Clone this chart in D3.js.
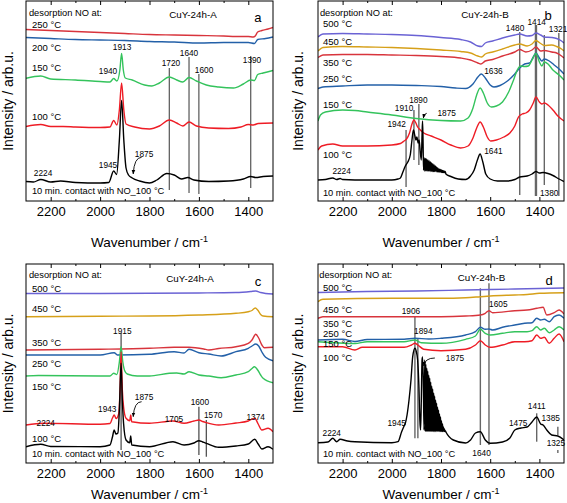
<!DOCTYPE html>
<html><head><meta charset="utf-8">
<script src="https://cdn.jsdelivr.net/npm/d3@7"></script>
<style>body{margin:0;background:#fff}svg{display:block}text{font-family:"Liberation Sans",Arial,sans-serif}</style>
</head><body><svg id="c" width="567" height="503"></svg>
<script>
const X_DOMAIN = [2300, 1300];
const majorTicks = [2200, 2000, 1800, 1600, 1400];
const minorTicks = [2100, 1900, 1700, 1500];

// ---------- Panel a : CuY-24h-A ----------
const a250 = [[2300,171.5],[2200,170.5],[2100,169.5],[2000,168.5],[1900,167.5],[1800,166.5],[1700,166],[1600,165.5],[1500,165],[1450,164.5],[1400,164.5],[1380,164],[1372,165],[1362,169],[1345,170.5],[1320,172],[1300,173.5]];
const a200 = [[2300,163.5],[2200,162.5],[2100,161.5],[2000,161],[1900,160.5],[1800,159.5],[1700,159],[1600,158],[1500,158.5],[1400,158.5],[1375,157.5],[1362,161.5],[1330,162.5],[1300,164]];
const a150 = [[2300,122.7],[2240,125],[2200,122],[2100,121],[2000,119.5],[1960,119],[1945,122.5],[1932,120],[1920,131],[1913,147.5],[1906,131],[1898,123],[1870,121],[1820,116],[1790,115],[1760,118],[1720,124],[1690,121],[1665,119],[1640,123.5],[1610,120],[1570,116],[1520,114],[1460,113],[1420,117],[1390,121],[1375,120.5],[1362,126.5],[1340,128],[1300,130.5]];
const a100 = [[2300,74.5],[2240,76.5],[2200,74.5],[2150,74.5],[2100,74],[2000,73.5],[1960,74],[1945,80.5],[1932,76],[1922,91],[1913,118],[1904,91],[1895,77],[1860,74],[1800,72],[1760,75],[1720,81],[1690,78],[1665,75],[1640,79],[1610,75],[1560,73],[1480,72.5],[1430,74],[1400,76.5],[1380,76],[1360,77.5],[1300,78]];
const a10 = [[2300,19.5],[2270,19],[2240,21.5],[2200,19],[2160,20],[2100,18.5],[2000,18],[1965,18.5],[1945,30],[1933,26.5],[1922,61],[1913,100.5],[1904,61],[1895,33],[1885,26],[1870,23],[1840,20],[1800,18],[1770,21],[1730,27.5],[1700,26],[1670,22],[1645,23.5],[1620,21],[1560,19.5],[1480,20],[1420,22],[1390,24.5],[1370,23.5],[1340,24.5],[1300,25]];
const aLines = [[1720,133,11],[1640,144,8],[1600,127,7],[1390,145,13]];
const aTemps = [["250 °C",176],["200 °C",153],["150 °C",133],["100 °C",84]];
const aPeaks = [["1913",1911,154],["1940",1968,130],["1720",1713,138],["1640",1640,148],["1600",1579,131],["1390",1385,141],["1945",1968,36],["1875",1822,47],["2224",2231,28]];
const aArrow = [[1832,43.7],[1866,27]];

// ---------- Panel b : CuY-24h-B ----------
const b500 = [[2300,164],[2280,167],[2200,167.5],[2100,167],[2000,166.5],[1900,165.5],[1800,163.5],[1720,161.5],[1680,159],[1650,155],[1635,154.5],[1620,158],[1590,160],[1550,163],[1500,166],[1480,167],[1450,165],[1430,165.5],[1414,168],[1395,166],[1380,164],[1350,163.5],[1330,162.5],[1310,160],[1300,158]];
const b450 = [[2300,150],[2280,153.5],[2200,154.5],[2100,154],[2000,153.5],[1900,152.5],[1800,151],[1720,149.5],[1680,148],[1650,145],[1635,144],[1620,147],[1590,149],[1550,152],[1500,156],[1480,157],[1450,155],[1430,157],[1414,160.5],[1395,157.5],[1380,155.5],[1350,156],[1330,154.5],[1310,152],[1300,150]];
const b350 = [[2300,143.5],[2280,146],[2200,146.5],[2100,146.5],[2000,146],[1900,145.5],[1800,144.5],[1720,143],[1680,141],[1650,138],[1638,137],[1620,140],[1590,141.5],[1550,145],[1500,149],[1480,151.5],[1455,149],[1430,151],[1414,154],[1395,150],[1380,150.5],[1350,149],[1330,148],[1310,145],[1300,143]];
const b250 = [[2300,112.5],[2280,114],[2200,115],[2100,116],[2000,116],[1900,115.5],[1800,114.5],[1740,113],[1700,112.5],[1670,117],[1650,124],[1636,127],[1620,123],[1600,116],[1585,114],[1560,115.5],[1530,120],[1500,127],[1480,133],[1460,137],[1440,138],[1425,144],[1414,148],[1400,143],[1390,140],[1380,142],[1360,140],[1340,136],[1320,132],[1300,127]];
const b150 = [[2300,80],[2290,86],[2270,89],[2200,91],[2150,90.5],[2100,89],[2000,86],[1900,82.5],[1800,80.5],[1720,80],[1690,83],[1670,93],[1655,106],[1641,113],[1628,108],[1612,98],[1595,94],[1575,95],[1550,99],[1525,109],[1505,121],[1490,131],[1475,135],[1460,134.5],[1445,135],[1430,141],[1414,147.5],[1400,139],[1390,135],[1380,139],[1365,137],[1345,131],[1320,126],[1300,121]];
const b100 = [[2300,51],[2285,55],[2240,57],[2200,55],[2100,55],[2000,56],[1965,57.5],[1950,60],[1940,62],[1928,68],[1918,77],[1910,81],[1902,78],[1895,74],[1888,72],[1880,70],[1870,68],[1840,65],[1800,61],[1760,56],[1720,53],[1690,55],[1670,63],[1655,73],[1641,79],[1628,74],[1612,64],[1598,60],[1575,61],[1545,64],[1520,68],[1500,75],[1485,84],[1470,87],[1455,88],[1440,91],[1425,98],[1414,104],[1400,99],[1390,97],[1380,98],[1365,96],[1345,91],[1325,85],[1300,80]];
const b10 = [[2300,21],[2270,21.5],[2240,23],[2224,21.5],[2210,22.5],[2200,21.5],[2100,21],[2000,21],[1975,22],[1965,23],[1955,29],[1945,35],[1935,39],[1925,46],[1918,61],[1912,71],[1906,65],[1902,61],[1898,64],[1893,58],[1889,61],[1885,51],[1880,41],[1877,66],[1875,80],[1873,61],[1871,31],
 [1868,43],[1866,30],[1863,42.5],[1861,30],[1858,42],[1856,30],[1853,41],[1851,30],[1848,40],[1846,30],[1843,39],[1841,29.5],[1838,38],[1836,29.5],[1833,37],[1831,29.5],[1828,36],[1826,29.5],[1823,35],[1821,29.5],[1818,34],[1816,29],[1813,33],[1811,29],[1808,32],[1806,29],[1803,31.5],[1801,29],[1798,31],[1796,28.5],[1793,30.5],[1791,28.5],[1788,30],[1786,28.5],[1783,29.5],
 [1780,27],[1760,24.5],[1730,22],[1700,21.5],[1680,25],[1665,31],[1652,41],[1641,47],[1630,39],[1618,27],[1600,22],[1570,20],[1530,20],[1500,21.5],[1480,24],[1450,25],[1430,27],[1414,29.5],[1400,28],[1385,28.5],[1365,27.5],[1345,25.5],[1320,22],[1300,19.5]];
const bLines = [[1942,71,14],[1910,91,41],[1890,97,36],[1480,169,6],[1414,176,5],[1380,166,16],[1321,168,5]];
const bTemps = [["500 °C",177],["450 °C",159.3],["350 °C",138.3],["250 °C",122.7],["150 °C",96],["100 °C",46]];
const bPeaks = [["1942",1980,77],["1910",1950,92.7],["1890",1892,101],["1875",1777,88.3],["1641",1587,50.3],["1636",1587,130.3],["1480",1499,172.7],["1414",1411,179.3],["1321",1324,172],["1380",1360,8.3],["2224",2204,30.3]];
const bArrow = [[1858,87.7],[1872,83]];

// ---------- Panel c : CuY-24h-A ----------
const c500 = [[2300,169.5],[2000,169.5],[1600,170],[1450,170.5],[1390,171.5],[1370,172],[1350,170.5],[1330,169.5],[1300,169]];
const c450 = [[2300,146.3],[2000,146.8],[1800,147],[1600,148],[1450,149.7],[1400,151.3],[1385,152.5],[1372,155],[1362,153],[1350,148.5],[1340,147],[1300,146.3]];
const c350 = [[2300,113],[2000,113.7],[1800,114.7],[1700,115.7],[1640,115.7],[1580,114],[1560,113],[1520,114.5],[1450,116.3],[1400,119.7],[1385,123],[1370,128.7],[1358,125],[1345,118],[1335,115.3],[1300,115.7]];
const c250 = [[2300,108],[2000,108],[1943,110.3],[1930,108],[1800,108.7],[1700,111.3],[1660,110],[1640,113.7],[1600,110.3],[1560,109],[1510,107],[1450,111.3],[1400,114.7],[1385,117],[1370,119],[1358,117],[1345,111],[1330,105.7],[1300,102.3]];
const c150 = [[2300,87],[2250,87.5],[2000,87],[1960,87],[1945,89.7],[1932,88.5],[1922,101],[1915,116.3],[1908,101],[1900,92],[1890,89],[1850,87],[1800,87],[1720,89.7],[1690,90],[1660,89],[1640,91.3],[1600,88],[1560,87],[1510,85.3],[1450,88],[1400,91.3],[1385,94.5],[1375,96.3],[1362,93],[1350,88],[1340,84.7],[1300,80.3]];
const c100 = [[2300,38],[2230,39.7],[2000,38.7],[1960,39.5],[1950,45],[1943,48],[1935,44.5],[1925,49],[1920,68],[1915,111],[1910,73],[1905,56.3],[1895,44.7],[1880,42.3],[1876,48],[1872,41.3],[1800,39.7],[1705,42],[1660,39.7],[1620,42],[1600,43],[1585,41.5],[1570,40.3],[1520,38],[1450,40],[1400,42],[1374,44.7],[1360,39],[1345,33],[1320,34.7],[1300,31.3]];
const c10 = [[2300,16.3],[2240,18.7],[2200,16.5],[2000,16.3],[1960,18],[1950,26],[1943,33],[1936,29],[1928,30],[1922,53],[1915,99.7],[1910,63],[1905,39.7],[1895,23],[1880,20.3],[1876,27],[1872,18],[1800,16.3],[1705,21.3],[1660,18],[1620,20],[1600,22.3],[1585,21],[1570,19.7],[1520,15.7],[1450,17],[1400,19],[1374,23.7],[1360,19],[1345,14],[1320,16.3],[1300,13.7]];
const cLines = [[1915,130.3,13],[1600,56.3,8],[1570,43,6.3]];
const cTemps = [["500 °C",174.7],["450 °C",154.7],["350 °C",120.3],["250 °C",99.7],["150 °C",76.3],["100 °C",24.7]];
const cPeaks = [["1915",1910,132.3],["1875",1822,66.3],["1943",1971,53.7],["1705",1701,43.7],["1600",1596,61.3],["1570",1542,48],["1374",1370,46.3],["2224",2220,40.3]];
const cArrow = [[1832,61.3],[1866,46.3]];

// ---------- Panel d : CuY-24h-B ----------
const d500 = [[2300,170.5],[2100,171.5],[1900,172],[1700,173],[1500,174],[1400,174.5],[1300,175]];
const d450 = [[2300,161.3],[2280,163.7],[2000,164.7],[1800,164.7],[1700,165.3],[1640,166.3],[1600,167],[1500,168],[1450,168.5],[1400,169.7],[1300,170.3]];
const d350 = [[2300,144.7],[2280,146.3],[2000,146.3],[1800,146.3],[1700,147],[1640,148],[1620,149.7],[1605,152.3],[1590,150.3],[1500,152.3],[1450,153],[1410,154.7],[1385,155.7],[1370,148],[1340,150.3],[1320,153],[1300,149]];
const d250 = [[2300,123],[2200,123.7],[2150,121.5],[2100,123.5],[1950,123.7],[1906,124.7],[1850,124],[1800,124.7],[1700,128],[1660,131.3],[1640,135.7],[1620,133.7],[1605,134],[1590,133],[1550,135.7],[1500,138],[1460,139.7],[1430,140.3],[1411,144.7],[1395,143],[1380,143.7],[1360,141.3],[1340,146.3],[1320,148],[1300,144.7]];
const d150 = [[2300,121.3],[2150,119.5],[2100,121.3],[1950,121.3],[1906,123],[1880,120.3],[1800,119.7],[1700,123.7],[1660,127],[1640,133.7],[1620,129.7],[1600,128],[1550,129.7],[1500,131.3],[1450,131.3],[1430,132.3],[1411,136.3],[1395,133],[1380,134.7],[1360,130.3],[1340,133],[1320,136.3],[1300,133]];
const d100 = [[2300,116.3],[2200,116.3],[2150,113],[2120,115.7],[2000,115.7],[1950,115.7],[1920,118],[1906,119.7],[1894,118],[1870,113.7],[1800,112.3],[1700,113.7],[1660,118],[1640,122.3],[1620,118],[1600,115.7],[1550,118],[1500,121.3],[1460,121.3],[1430,122.3],[1411,128],[1395,124.7],[1380,125.7],[1360,119.7],[1340,124.7],[1320,129],[1300,121.3]];
const d10 = [[2300,20.3],[2260,21],[2240,24.7],[2224,21.3],[2210,23.7],[2180,22],[2150,21.3],[2000,20.3],[1975,21.3],[1960,31.3],[1950,37],[1945,39.7],[1938,48],[1930,63],[1922,83],[1915,106.3],[1906,114.7],[1900,111],[1895,103],[1890,78],[1886,43],[1883,33],[1880,63],[1877,103],[1875,106],[1872,83],[1869,33],
 [1866,103],[1864,31.5],[1862,99],[1860,31.5],[1858,95],[1856,31.5],[1854,92],[1852,31.5],[1850,88],[1848,31.5],[1846,85],[1844,31.5],[1842,81],[1840,31.5],[1838,77],[1836,31.5],[1834,74],[1832,31.5],[1830,70],[1828,31.5],[1826,67],[1824,31.5],[1822,63],[1820,31.5],[1818,60],[1816,31.5],[1814,56],[1812,31.5],[1810,53],[1808,31.5],[1806,49],[1804,31.5],[1802,46],[1800,31.5],[1798,42],[1796,31.5],[1794,39],[1792,31.5],[1790,36],[1788,31.5],[1786,34],[1784,31.5],[1782,32],
 [1780,31],[1750,23],[1700,20],[1680,23],[1660,30],[1640,31.3],[1620,23],[1600,19.7],[1550,21],[1520,25],[1500,33],[1475,35],[1450,36],[1430,41],[1411,46],[1395,39],[1385,38],[1370,33],[1350,28],[1325,27],[1300,23]];
const dLines = [[1906,146.3,24.7],[1894,124.7,24.7],[1640,174.7,18],[1605,179.7,18],[1411,49.7,21.3],[1325,36.3,28],[1325,13,10]];
const dTemps = [["500 °C",175.7],["450 °C",153],["350 °C",139],["250 °C",129],["150 °C",119],["100 °C",105.7]];
const dPeaks = [["1605",1567,159],["1906",1922,152.3],["1894",1872,132.3],["1875",1743,104.7],["1945",1980,40.3],["2224",2244,30.3],["1475",1486,40.3],["1411",1411,57],["1385",1354,44.7],["1325",1333,20.3],["1640",1635,10.3]];
const dArrow = [[1825,105],[1870,97]];

// ---------- styling ----------
const RED = "#ee1c25", RED2 = "#d8343c", BLUE = "#2360a8", GREEN = "#34c35c", PURPLE = "#6a62d4", ORANGE = "#d6a019", BLACK = "#000";

const panels = [
  {id:"a", x0:26, x1:273, y0:1, y1:201, titleY:247, name:"CuY-24h-A", nameAt:[1624,186], letterAt:[1361,184], ytx:13,
   series:[[a250,RED2],[a200,BLUE],[a150,GREEN],[a100,RED],[a10,BLACK]], lines:aLines, lineColor:"#333", lineW:1,
   temps:aTemps, tempWn:2276, headWn:2288, headV:188, footV:10, peaks:aPeaks, arrow:aArrow},
  {id:"b", x0:318, x1:564, y0:1, y1:201, titleY:247, name:"CuY-24h-B", nameAt:[1621,186], letterAt:[1365,186], ytx:303,
   series:[[b500,PURPLE],[b450,ORANGE],[b350,RED2],[b250,BLUE],[b150,GREEN],[b100,RED],[b10,BLACK]], lines:bLines, lineColor:"#666", lineW:1.4,
   temps:bTemps, tempWn:2280, headWn:2292, headV:188, footV:8.3, peaks:bPeaks, arrow:bArrow},
  {id:"c", x0:26, x1:273, y0:264, y1:463, titleY:499, name:"CuY-24h-A", nameAt:[1636,184.7], letterAt:[1361,181.3], ytx:13,
   series:[[c500,PURPLE],[c450,ORANGE],[c350,RED2],[c250,BLUE],[c150,GREEN],[c100,RED],[c10,BLACK]], lines:cLines, lineColor:"#444", lineW:1.2,
   temps:cTemps, tempWn:2276, headWn:2288, headV:188, footV:9, peaks:cPeaks, arrow:cArrow},
  {id:"d", x0:318, x1:564, y0:264, y1:463, titleY:499, name:"CuY-24h-B", nameAt:[1635,185.7], letterAt:[1360,183], ytx:303,
   series:[[d500,PURPLE],[d450,ORANGE],[d350,RED2],[d250,BLUE],[d150,GREEN],[d100,RED],[d10,BLACK]], lines:dLines, lineColor:"#666", lineW:1.4,
   temps:dTemps, tempWn:2280, headWn:2295, headV:188, footV:9, peaks:dPeaks, arrow:dArrow}
];

const svg = d3.select("#c");
const defs = svg.append("defs");
defs.append("marker").attr("id","arr").attr("viewBox","0 0 10 10").attr("refX",9).attr("refY",5)
  .attr("markerWidth",5).attr("markerHeight",5).attr("orient","auto")
  .append("path").attr("d","M0,1L10,5L0,9z").attr("fill","#000");

panels.forEach(p => {
  const x = d3.scaleLinear().domain(X_DOMAIN).range([p.x0, p.x1]);
  const y = d3.scaleLinear().domain([0, p.y1 - p.y0]).range([p.y1, p.y0]);
  const g = svg.append("g");
  defs.append("clipPath").attr("id","clip"+p.id).append("rect")
    .attr("x",p.x0).attr("y",p.y0).attr("width",p.x1-p.x0).attr("height",p.y1-p.y0);
  const plot = g.append("g").attr("clip-path",`url(#clip${p.id})`);

  plot.selectAll("line.mk").data(p.lines).join("line")
    .attr("x1",d=>x(d[0])).attr("x2",d=>x(d[0])).attr("y1",d=>y(d[1])).attr("y2",d=>y(d[2]))
    .attr("stroke",p.lineColor).attr("stroke-width",d=>(p.id==="b"&&d[0]===1414)?2.4:p.lineW);

  const line = d3.line().x(d=>x(d[0])).y(d=>y(d[1])).curve(d3.curveMonotoneX);
  p.series.forEach(([data,color]) => {
    plot.append("path").datum(data).attr("d",line).attr("fill","none")
      .attr("stroke",color).attr("stroke-width",color===BLACK?1.4:1.4).attr("stroke-linejoin","round");
  });

  const T = g.append("g").attr("fill","#000");
  T.append("text").attr("x",x(p.headWn)).attr("y",y(p.headV)).attr("dy","0.35em").attr("font-size",9.3).text("desorption NO at:");
  T.append("text").attr("x",x(p.nameAt[0])).attr("y",y(p.nameAt[1])).attr("dy","0.35em").attr("text-anchor","middle").attr("font-size",9.8).text(p.name);
  T.append("text").attr("x",x(p.letterAt[0])).attr("y",y(p.letterAt[1])).attr("dy","0.35em").attr("text-anchor","middle").attr("font-size",13).text(p.id);
  p.temps.forEach(t => T.append("text").attr("x",x(p.tempWn)).attr("y",y(t[1])).attr("dy","0.35em").attr("font-size",9.5).text(t[0]));
  T.append("text").attr("x",x(p.tempWn)).attr("y",y(p.footV)).attr("dy","0.35em").attr("font-size",9.3).text("10 min. contact with NO_100 °C");
  p.peaks.forEach(t => T.append("text").attr("x",x(t[1])).attr("y",y(t[2])).attr("dy","0.35em").attr("text-anchor","middle").attr("font-size",8.3).text(t[0]));
  const [s,e] = p.arrow;
  const sx=x(s[0]), sy=y(s[1]), ex=x(e[0]), ey=y(e[1]);
  g.append("path").attr("d",`M${sx},${sy}Q${ex+1},${sy} ${ex},${ey}`).attr("fill","none").attr("stroke","#000").attr("stroke-width",0.9).attr("marker-end","url(#arr)");

  g.append("rect").attr("x",p.x0).attr("y",p.y0).attr("width",p.x1-p.x0).attr("height",p.y1-p.y0)
    .attr("fill","none").attr("stroke","#000").attr("stroke-width",1);

  const bot = g.append("g").attr("transform",`translate(0,${p.y1})`)
    .call(d3.axisBottom(x).tickValues(majorTicks).tickSize(-4).tickPadding(6).tickFormat(d3.format("d")));
  bot.select(".domain").remove();
  bot.selectAll("text").attr("font-size",13).attr("font-family",'"Liberation Sans",Arial,sans-serif');
  const botm = g.append("g").attr("transform",`translate(0,${p.y1})`).call(d3.axisBottom(x).tickValues(minorTicks).tickSize(-2).tickFormat(""));
  botm.select(".domain").remove();
  const top = g.append("g").attr("transform",`translate(0,${p.y0})`).call(d3.axisTop(x).tickValues(majorTicks).tickSize(-4).tickFormat(""));
  top.select(".domain").remove();
  const topm = g.append("g").attr("transform",`translate(0,${p.y0})`).call(d3.axisTop(x).tickValues(minorTicks).tickSize(-2).tickFormat(""));
  topm.select(".domain").remove();

  const xt = g.append("text").attr("x",(p.x0+p.x1)/2).attr("y",p.titleY).attr("text-anchor","middle").attr("font-size",13.5);
  xt.append("tspan").text("Wavenumber / cm");
  xt.append("tspan").attr("dy",-5).attr("font-size",9).text("-1");
  g.append("text").attr("transform",`translate(${p.ytx},${(p.y0+p.y1)/2}) rotate(-90)`).attr("text-anchor","middle").attr("font-size",14).text("Intensity / arb.u.");
});
</script></body></html>
